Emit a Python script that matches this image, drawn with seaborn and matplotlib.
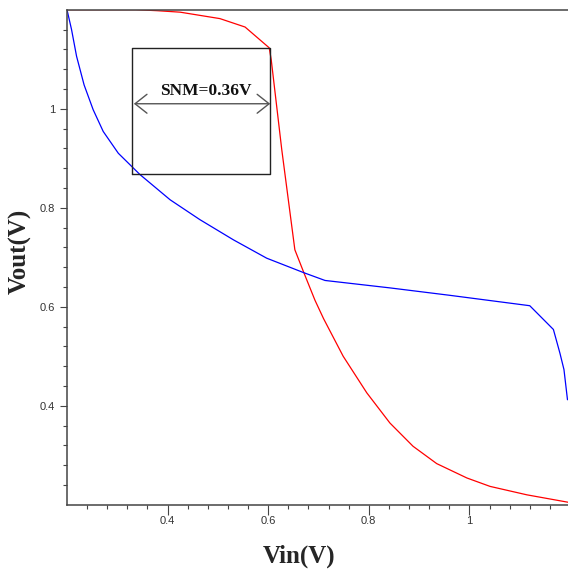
import numpy as np
import pandas as pd
import matplotlib
matplotlib.use('Agg')
import matplotlib.pyplot as plt
import matplotlib.ticker as mticker
import seaborn as sns

# curva roja (inversor 1)
vin_rojo = [0.2, 0.337, 0.379, 0.425, 0.504, 0.554, 0.602, 0.606, 0.627, 0.653,
            0.670, 0.693, 0.710, 0.749, 0.796, 0.842, 0.888, 0.935, 0.995, 1.041, 1.114, 1.196]
vout_rojo = [1.2, 1.2, 1.198, 1.195, 1.182, 1.165, 1.123, 1.099, 0.917, 0.715,
             0.671, 0.613, 0.576, 0.500, 0.426, 0.365, 0.318, 0.283, 0.254, 0.237, 0.220, 0.205]

# curva azul (inversor 2)
vin_azul = [0.2, 0.209, 0.219, 0.234, 0.252, 0.272, 0.302, 0.345, 0.405, 0.464, 0.531,
            0.597, 0.670, 0.713, 0.842, 0.961, 1.120, 1.167, 1.180, 1.188, 1.195]
vout_azul = [1.2, 1.160, 1.106, 1.048, 0.998, 0.954, 0.910, 0.867, 0.816, 0.776, 0.735,
             0.698, 0.669, 0.653, 0.638, 0.623, 0.602, 0.554, 0.506, 0.473, 0.412]

# caja y flecha del SNM
caja_x = [0.329, 0.604]
caja_y = [0.869, 1.123]
flecha_y = 1.010
texto_snm = 'SNM=0.36V'

ticks_mayores = [0.4, 0.6, 0.8, 1.0]

df = pd.concat([
    pd.DataFrame({'vin': vin_rojo, 'vout': vout_rojo, 'curva': 'rojo'}),
    pd.DataFrame({'vin': vin_azul, 'vout': vout_azul, 'curva': 'azul'}),
])

sns.set_style('ticks')
plt.rcParams['font.family'] = ['Liberation Sans', 'DejaVu Sans']

fig = plt.figure(figsize=(5.68, 5.70), dpi=100)
ax = fig.add_axes([67 / 568, 65.3 / 570, 503 / 568, 495 / 570])

sns.lineplot(data=df, x='vin', y='vout', hue='curva', sort=False,
             palette={'rojo': '#ff0000', 'azul': '#0000ff'},
             linewidth=0.9, legend=False, ax=ax)

ax.set_xlim(0.2, 1.2)
ax.set_ylim(0.2, 1.2)

# caja
ax.plot([caja_x[0], caja_x[1], caja_x[1], caja_x[0], caja_x[0]],
        [caja_y[0], caja_y[0], caja_y[1], caja_y[1], caja_y[0]],
        color='#222222', linewidth=1.0)

ax.annotate('', xy=(caja_x[1], flecha_y), xytext=(0.333, flecha_y),
            arrowprops=dict(arrowstyle='<->,head_length=0.86,head_width=0.68',
                            color='#555555', lw=1.0, shrinkA=0, shrinkB=0,
                            mutation_scale=10))
ax.text(0.476, 1.036, texto_snm, ha='center', va='center', fontsize=12.5,
        fontweight='bold', family=['Liberation Serif', 'DejaVu Serif'], color='#111111')

# ejes
ax.xaxis.set_major_locator(mticker.FixedLocator(ticks_mayores))
ax.yaxis.set_major_locator(mticker.FixedLocator(ticks_mayores))
menores = [round(0.2 + 0.04 * i, 2) for i in range(1, 25)]
menores = [m for m in menores if m not in ticks_mayores]
ax.xaxis.set_minor_locator(mticker.FixedLocator(menores))
ax.yaxis.set_minor_locator(mticker.FixedLocator(menores))
ax.xaxis.set_major_formatter(mticker.FormatStrFormatter('%g'))
ax.yaxis.set_major_formatter(mticker.FormatStrFormatter('%g'))

ax.tick_params(axis='x', which='major', length=7.2, width=0.8, color='#444444',
               labelsize=8, labelcolor='#333333', pad=1)
ax.tick_params(axis='y', which='major', length=5, width=0.8, color='#444444',
               labelsize=8, labelcolor='#333333', pad=3.5)
ax.tick_params(which='minor', length=3.2, width=0.8, color='#444444')

for lado in ['left', 'bottom', 'top']:
    ax.spines[lado].set_visible(True)
    ax.spines[lado].set_color('#444444')
    ax.spines[lado].set_linewidth(1.1)
ax.spines['right'].set_visible(False)

ax.set_xlabel('')
ax.set_ylabel('')
fig.text(299 / 568, 1 - 556 / 570, 'Vin(V)', ha='center', va='center', fontsize=18,
         fontweight='bold', family=['Liberation Serif', 'DejaVu Serif'])
fig.text(20 / 568, 1 - 251 / 570, 'Vout(V)', ha='center', va='center', fontsize=18,
         fontweight='bold', rotation=90, family=['Liberation Serif', 'DejaVu Serif'])

fig.savefig('out.png', dpi=100)
